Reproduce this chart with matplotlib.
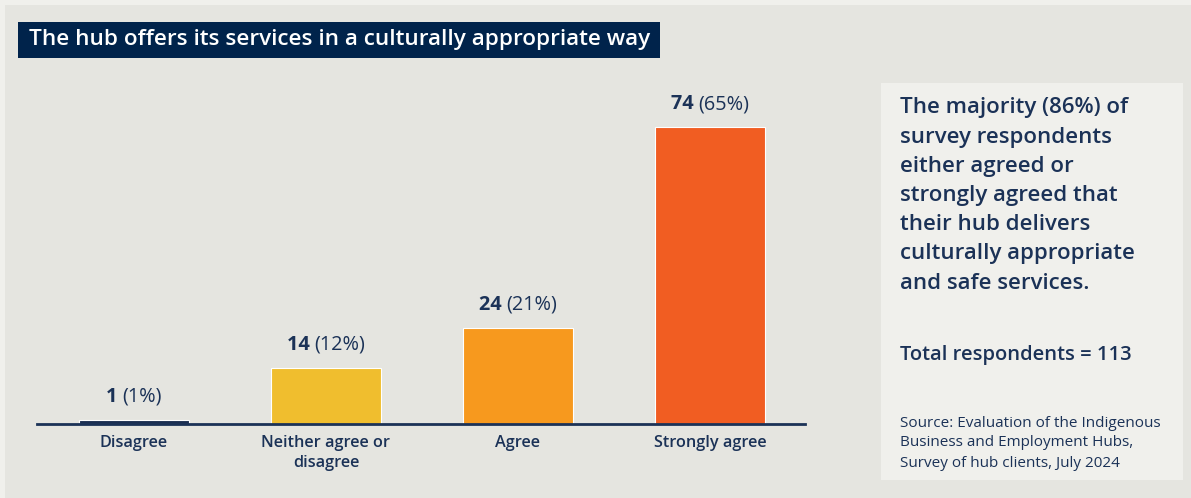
import matplotlib
matplotlib.use("Agg")
import matplotlib.pyplot as plt
from matplotlib.patches import Rectangle
from matplotlib.transforms import offset_copy

categories = ["Disagree", "Neither agree or\ndisagree", "Agree", "Strongly agree"]
counts = [1, 14, 24, 74]
percents = ["(1%)", "(12%)", "(21%)", "(65%)"]
bar_colors = ["#1B2F52", "#F0BE2E", "#F7991E", "#F15D22"]
title = "The hub offers its services in a culturally appropriate way"
panel_text = ["The majority (86%) of", "survey respondents", "either agreed or",
              "strongly agreed that", "their hub delivers",
              "culturally appropriate", "and safe services."]
total_text = "Total respondents = 113"
source_text = ["Source: Evaluation of the Indigenous",
               "Business and Employment Hubs,",
               "Survey of hub clients, July 2024"]

W, H = 1191, 498
NAVY = "#1B3257"
BG = "#E5E5E0"
LIGHT = "#F0F0EC"
plt.rcParams['font.family'] = ['Open Sans', 'DejaVu Sans']

fig = plt.figure(figsize=(W / 100, H / 100), dpi=100)
fig.patch.set_facecolor(BG)

def fx(x):
    return x / W

def fy(y):
    return 1 - y / H

# light border strips at top and left
fig.patches.append(Rectangle((0, fy(5)), 1, 5 / H, transform=fig.transFigure,
                             facecolor=LIGHT, edgecolor="none", zorder=0))
fig.patches.append(Rectangle((0, 0), fx(5), 1, transform=fig.transFigure,
                             facecolor=LIGHT, edgecolor="none", zorder=0))

# title box
fig.patches.append(Rectangle((fx(18), fy(58)), fx(660 - 18), (58 - 22) / H,
                             transform=fig.transFigure, facecolor="#00234B",
                             edgecolor="none", zorder=0))
fig.text(fx(29), fy(40), title, color="white", fontsize=16.2, weight="semibold",
         va="center", ha="left")

# right panel
fig.patches.append(Rectangle((fx(881), fy(480)), fx(1183 - 881), (480 - 83) / H,
                             transform=fig.transFigure, facecolor=LIGHT,
                             edgecolor="none", zorder=0))
for i, line in enumerate(panel_text):
    fig.text(fx(900), fy(108 + 29.2 * i), line, color=NAVY, fontsize=16,
             weight="semibold", va="center", ha="left")
fig.text(fx(900), fy(355), total_text, color=NAVY, fontsize=14.5,
         weight="semibold", va="center", ha="left")
for i, line in enumerate(source_text):
    fig.text(fx(900), fy(423 + 20 * i), line, color=NAVY, fontsize=11,
             va="center", ha="left")

# bar chart
ax = fig.add_axes([fx(37), fy(424), fx(805 - 37), (424 - 80) / H])
ax.set_facecolor("none")
x = list(range(len(categories)))
ax.bar(x, counts, width=0.57, color=bar_colors, edgecolor="white", linewidth=0.8, zorder=2)
ax.set_xlim(-0.505, 3.495)
ax.set_ylim(0, 85.8)
for s in ["top", "right", "left"]:
    ax.spines[s].set_visible(False)
ax.spines["bottom"].set_color(NAVY)
ax.spines["bottom"].set_linewidth(2)
ax.spines["bottom"].set_zorder(3)
ax.set_yticks([])
ax.set_xticks(x)
ax.set_xticklabels(categories, color=NAVY, fontsize=11.7, weight="semibold",
                   linespacing=1.3)
ax.tick_params(axis="x", length=0, pad=8)

fig.canvas.draw()
renderer = fig.canvas.get_renderer()
for xi, c, p in zip(x, counts, percents):
    t1 = ax.text(xi, c, str(c) + " ", ha="left", va="center", fontsize=14.3,
                 weight="bold", color=NAVY)
    t2 = ax.text(xi, c, p, ha="left", va="center", fontsize=14.3, color=NAVY)
    w1 = t1.get_window_extent(renderer).width
    w2 = t2.get_window_extent(renderer).width
    total = w1 + w2
    dy = 23
    t1.set_transform(offset_copy(ax.transData, fig=fig, x=-total / 2, y=dy, units="dots"))
    t2.set_transform(offset_copy(ax.transData, fig=fig, x=-total / 2 + w1, y=dy, units="dots"))

fig.savefig("out.png", dpi=100, facecolor=BG)
